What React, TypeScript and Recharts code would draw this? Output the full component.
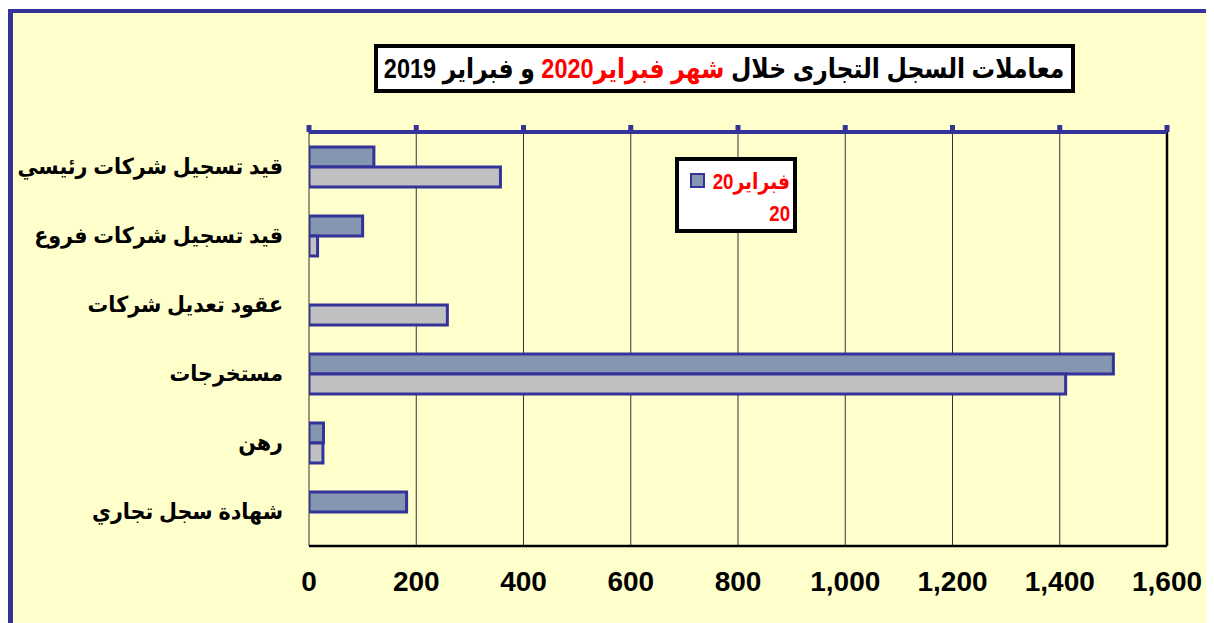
import React from 'react';
import {
  BarChart,
  Bar,
  XAxis,
  YAxis,
  CartesianGrid,
  ReferenceLine,
} from 'recharts';

const categories = [
  'قيد تسجيل شركات رئيسي',
  'قيد تسجيل شركات فروع',
  'عقود تعديل شركات',
  'مستخرجات',
  'رهن',
  'شهادة سجل تجاري',
];
const feb2020 = [121, 100, 0, 1500, 27, 182];
const feb2019 = [357, 16, 258, 1411, 26, 0];
const xTicks = [0, 200, 400, 600, 800, 1000, 1200, 1400, 1600];
const bandTicks = [0, 1, 2, 3, 4, 5, 6];
const seriesNames = ['فبراير2020', 'فبراير2019'];
const legendLines = ['فبراير20', '20'];
const titleParts = ['معاملات السجل التجارى خلال ', 'شهر فبراير2020', ' و فبراير 2019'];

const data = categories.map((name, i) => ({
  name,
  v2020: feb2020[i],
  v2019: feb2019[i],
}));

const BLUE = '#333399';
const FILL2020 = '#8496B0';
const FILL2019 = '#C0C0C0';
const BG = '#FFFFCC';
const FONT = 'Arial, "Liberation Sans", "DejaVu Sans", sans-serif';

const fmt = (v: number) => v.toLocaleString('en-US');

const EmptyTick = () => <g />;

const CatTick = (props: any) => {
  const { x, y, payload } = props;
  return (
    <g transform={`translate(${x},${y}) scale(0.94,1)`}>
      <text
        x={0}
        y={0}
        dy="0.35em"
        textAnchor="end"
        fontFamily={FONT}
        fontWeight="bold"
        fontSize={22}
        fill="#000"
      >
        {payload.value}
      </text>
    </g>
  );
};

export default function App() {
  return (
    <div style={{ position: 'relative', width: 1206, height: 615, fontFamily: FONT }}>
      <div
        style={{
          position: 'absolute',
          left: 0,
          top: 1,
          width: 1206,
          height: 614,
          background: BG,
          borderLeft: `5px solid ${BLUE}`,
          borderTop: `4px solid ${BLUE}`,
          boxSizing: 'border-box',
        }}
      />
      <div style={{ position: 'absolute', left: 0, top: 0 }}>
        <BarChart
          width={1206}
          height={615}
          data={data}
          layout="vertical"
          margin={{ top: 114, right: 47, bottom: 17, left: 0 }}
          barGap={0}
          barSize={20}
        >
          <CartesianGrid
            xAxisId="bottom"
            yAxisId="cat"
            horizontal={false}
            vertical={true}
            stroke="#333"
            strokeWidth={1}
          />
          <XAxis
            xAxisId="top"
            orientation="top"
            type="number"
            domain={[0, 1600]}
            ticks={xTicks}
            allowDataOverflow
            height={10}
            tick={<EmptyTick />}
            tickSize={7}
            tickLine={{ stroke: BLUE, strokeWidth: 5 }}
            axisLine={{ stroke: BLUE, strokeWidth: 4 }}
          />
          <XAxis
            xAxisId="bottom"
            orientation="bottom"
            type="number"
            domain={[0, 1600]}
            ticks={xTicks}
            allowDataOverflow
            height={60}
            tickFormatter={fmt}
            tickSize={0}
            tickMargin={25}
            tickLine={false}
            axisLine={{ stroke: '#000', strokeWidth: 2.5 }}
            tick={{ fontSize: 28, fontWeight: 'bold', fill: '#000', fontFamily: FONT }}
          />
          <YAxis
            yAxisId="bands"
            type="number"
            orientation="left"
            domain={[0, 6]}
            ticks={bandTicks}
            allowDataOverflow
            width={0}
            tick={<EmptyTick />}
            tickSize={10}
            tickLine={{ stroke: '#808080', strokeWidth: 1.5 }}
            axisLine={{ stroke: '#808080', strokeWidth: 2.5 }}
          />
          <YAxis
            yAxisId="cat"
            type="category"
            dataKey="name"
            orientation="left"
            width={301}
            axisLine={false}
            tickLine={false}
            tickSize={0}
            tickMargin={26}
            tick={<CatTick />}
            interval={0}
          />
          <Bar
            xAxisId="bottom"
            yAxisId="cat"
            dataKey="v2020"
            name={seriesNames[0]}
            fill={FILL2020}
            stroke={BLUE}
            strokeWidth={3}
            isAnimationActive={false}
          />
          <Bar
            xAxisId="bottom"
            yAxisId="cat"
            dataKey="v2019"
            name={seriesNames[1]}
            fill={FILL2019}
            stroke={BLUE}
            strokeWidth={3}
            isAnimationActive={false}
          />
          <ReferenceLine
            xAxisId="bottom"
            yAxisId="cat"
            x={1600}
            stroke="#000"
            strokeWidth={2.5}
          />
        </BarChart>
      </div>
      {/* Title */}
      <div
        style={{
          position: 'absolute',
          left: 366,
          top: 36,
          width: 701,
          height: 49,
          boxSizing: 'border-box',
          border: '4px solid #000',
          background: '#fff',
          display: 'flex',
          alignItems: 'center',
          justifyContent: 'center',
          overflow: 'visible',
        }}
      >
        <span
          dir="rtl"
          style={{
            display: 'inline-block',
            fontWeight: 'bold',
            fontSize: 27,
            color: '#000',
            whiteSpace: 'nowrap',
            transform: 'scaleX(0.87)',
            transformOrigin: 'center',
          }}
        >
          {titleParts[0]}
          <span style={{ color: '#FF0000' }}>{titleParts[1]}</span>
          {titleParts[2]}
        </span>
      </div>
      {/* Legend */}
      <div
        style={{
          position: 'absolute',
          left: 667,
          top: 149,
          width: 122,
          height: 76,
          boxSizing: 'border-box',
          border: '4px solid #000',
          background: '#fff',
          fontWeight: 'bold',
          fontSize: 22,
          color: '#FF0000',
        }}
      >
        <div
          style={{
            position: 'absolute',
            left: 11,
            top: 12,
            width: 11,
            height: 11,
            background: FILL2020,
            border: `2px solid ${BLUE}`,
          }}
        />
        <div
          dir="rtl"
          style={{
            position: 'absolute',
            right: 3,
            top: 5,
            lineHeight: '32px',
            textAlign: 'right',
            whiteSpace: 'nowrap',
            transform: 'scaleX(0.85)',
            transformOrigin: 'right center',
          }}
        >
          <div>{legendLines[0]}</div>
          <div>{legendLines[1]}</div>
        </div>
      </div>
    </div>
  );
}
